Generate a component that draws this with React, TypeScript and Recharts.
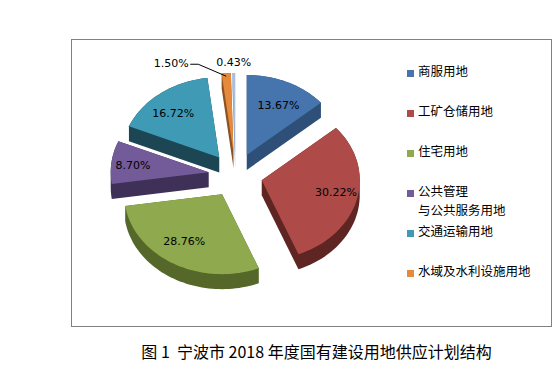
import { PieChart, Pie, Legend } from 'recharts'

// 宁波市 2018 年度国有建设用地供应计划结构 (%)
const categories = [
  '商服用地',
  '工矿仓储用地',
  '住宅用地',
  '公共管理\n与公共服务用地',
  '交通运输用地',
  '水域及水利设施用地',
  '其他',
]
const shares = [13.67, 30.22, 28.76, 8.7, 16.72, 1.5, 0.43]
const shareLabels = ['13.67%', '30.22%', '28.76%', '8.70%', '16.72%', '1.50%', '0.43%']
const legendItems = categories.slice(0, 6)

const topColors = ['#4674AD', '#AE4A47', '#8EA94E', '#735A99', '#3E9AB5', '#E58A3D', '#A9BFDC']
const sideColors = ['#2E5078', '#5E2523', '#55682A', '#3E3056', '#1D4654', '#8C5222', '#7E93B0']

const data = categories.map((name, i) => ({ name, value: shares[i] }))

const CX = 235.5
const CY = 175
const RX = 98
const RY = 80
const K = RY / RX
const EXPLODE = 27
const DEPTH = 15
const RAD = Math.PI / 180

function convexHull(pts: number[][]) {
  const p = [...pts].sort((a, b) => (a[0] === b[0] ? a[1] - b[1] : a[0] - b[0]))
  const cross = (o: number[], a: number[], b: number[]) =>
    (a[0] - o[0]) * (b[1] - o[1]) - (a[1] - o[1]) * (b[0] - o[0])
  const lower: number[][] = []
  for (const q of p) {
    while (lower.length >= 2 && cross(lower[lower.length - 2], lower[lower.length - 1], q) <= 0) lower.pop()
    lower.push(q)
  }
  const upper: number[][] = []
  for (let i = p.length - 1; i >= 0; i--) {
    const q = p[i]
    while (upper.length >= 2 && cross(upper[upper.length - 2], upper[upper.length - 1], q) <= 0) upper.pop()
    upper.push(q)
  }
  return lower.slice(0, -1).concat(upper.slice(0, -1))
}

const toPath = (pts: number[][]) =>
  pts.map((q, i) => `${i ? 'L' : 'M'}${q[0].toFixed(2)},${q[1].toFixed(2)}`).join(' ') + ' Z'

// draws one exploded, tilted slice from the angles recharts computed
const Slice3D = (props: any) => {
  const { cx, cy, startAngle, endAngle, midAngle, index } = props
  const m = midAngle * RAD
  const tx = cx + EXPLODE * Math.cos(m)
  const ty = cy - EXPLODE * K * Math.sin(m)
  const pt = (a: number) => [tx + RX * Math.cos(a * RAD), ty - RY * Math.sin(a * RAD)]

  const steps = Math.max(2, Math.ceil(Math.abs(endAngle - startAngle) / 2))
  const top: number[][] = [[tx, ty]]
  for (let s = 0; s <= steps; s++) top.push(pt(startAngle + ((endAngle - startAngle) * s) / steps))
  const bottom = top.map(([x, y]) => [x, y + DEPTH])
  const hull = convexHull([...top, ...bottom])

  const small = shares[index] < 5
  const isLast = index === data.length - 1
  let label
  if (!small) {
    const lx = tx + 0.78 * RX * Math.cos(m)
    const ly = ty - 0.68 * RY * Math.sin(m)
    label = (
      <text x={lx} y={ly} textAnchor="middle" dominantBaseline="central" fontSize={11} fontFamily="DejaVu Sans" fill="#000">
        {shareLabels[index]}
      </text>
    )
  } else {
    const [ax, ay] = pt(midAngle)
    if (isLast) {
      label = (
        <text x={ax} y={ay - 10} textAnchor="middle" dominantBaseline="central" fontSize={11} fontFamily="DejaVu Sans" fill="#000">
          {shareLabels[index]}
        </text>
      )
    } else {
      const lx = ax - 55
      const ly = ay - 10
      label = (
        <g>
          <polyline
            points={`${lx + 19},${ly + 1} ${lx + 27},${ly + 1} ${ax},${ay + 3}`}
            fill="none"
            stroke="#000"
            strokeWidth={1}
          />
          <text x={lx} y={ly} textAnchor="middle" dominantBaseline="central" fontSize={11} fontFamily="DejaVu Sans" fill="#000">
            {shareLabels[index]}
          </text>
        </g>
      )
    }
  }

  return (
    <g>
      <path d={toPath(hull)} fill={sideColors[index]} />
      <path d={toPath(top)} fill={topColors[index]} />
      {label}
    </g>
  )
}

const LegendBox = () => (
  <div style={{ fontFamily: '"Noto Sans CJK SC"', fontSize: 12.5, color: '#000' }}>
    {legendItems.map((name, i) => (
      <div key={name} style={{ display: 'flex', alignItems: 'flex-start', height: 40 }}>
        <span
          style={{
            display: 'inline-block',
            width: 7,
            height: 7,
            marginTop: 8,
            marginRight: 4,
            background: topColors[i],
          }}
        />
        <div style={{ lineHeight: '18.5px' }}>
          {name.split('\n').map((line) => (
            <div key={line}>{line}</div>
          ))}
        </div>
      </div>
    ))}
  </div>
)

export default function App() {
  return (
    <div style={{ position: 'absolute', left: 0, top: 0, width: 560, height: 391, background: '#fff' }}>
      <div
        style={{
          position: 'absolute',
          left: 71,
          top: 39,
          width: 479,
          height: 286,
          border: '1px solid #808080',
        }}
      />
      <div style={{ position: 'absolute', left: 0, top: 0 }}>
        <PieChart width={560} height={391} margin={{ top: 0, right: 0, bottom: 0, left: 0 }}>
          <Pie
            data={data}
            dataKey="value"
            nameKey="name"
            cx={CX}
            cy={CY}
            outerRadius={RX}
            startAngle={90}
            endAngle={-270}
            fill="none"
            stroke="none"
            label={Slice3D}
            labelLine={false}
            isAnimationActive={false}
          />
          <Legend
            layout="vertical"
            align="right"
            verticalAlign="top"
            content={LegendBox}
            wrapperStyle={{ left: 407, top: 62, right: 'auto', width: 150 }}
          />
        </PieChart>
      </div>
      <div
        style={{
          position: 'absolute',
          left: 0,
          width: 633,
          top: 341,
          textAlign: 'center',
          fontFamily: '"Noto Sans CJK SC"',
          fontSize: 16,
          lineHeight: '20px',
          whiteSpace: 'pre',
          color: '#000',
        }}
      >
        {'图 1  宁波市 2018 年度国有建设用地供应计划结构'}
      </div>
    </div>
  )
}
